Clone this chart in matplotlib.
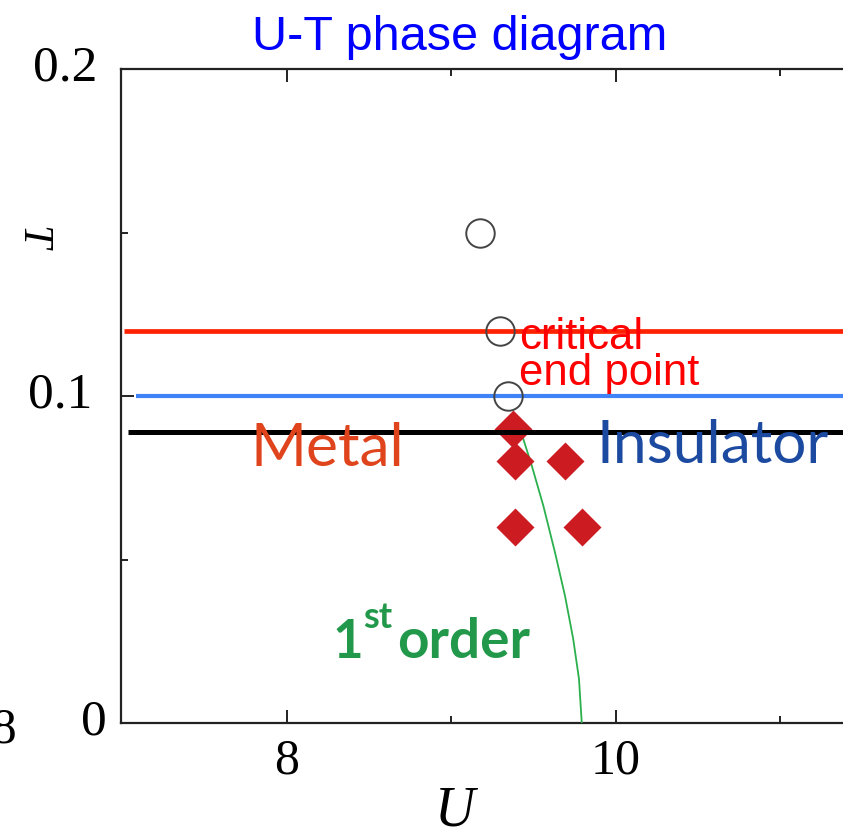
import matplotlib
matplotlib.use("Agg")
import matplotlib.pyplot as plt
from matplotlib.ticker import FixedLocator, NullFormatter
from matplotlib import transforms

# ---- data ----
circle_U = [9.173, 9.295, 9.343]
circle_T = [0.150, 0.120, 0.100]

diamond_U = [9.374, 9.386, 9.690, 9.386, 9.793]
diamond_T = [0.090, 0.080, 0.080, 0.060, 0.060]

first_order_U = [9.433, 9.488, 9.558, 9.629, 9.690, 9.740, 9.775, 9.792]
first_order_T = [0.0874, 0.0787, 0.0665, 0.0522, 0.0389, 0.0257, 0.0135, 0.0]

red_T, red_U0 = 0.120, 7.01
blue_T, blue_U0 = 0.100, 7.085
black_T, black_U0 = 0.089, 7.035

x_major = [8, 10]
x_minor = [9, 11]
y_major = [0, 0.1, 0.2]
y_major_labels = ["0", "0.1", "0.2"]
y_minor = [0.05, 0.15]

# ---- layout ----
W, H = 843, 829
y_label_right_px = [107, 92, 97]   # right edge of each y tick label (pixels)

fig = plt.figure(figsize=(W / 100, H / 100), dpi=100)

def fx(x):
    return x / W

def fy(y):
    return 1 - y / H

left, right, top, bottom = 121, 843, 70, 724
ax = fig.add_axes([fx(left), fy(bottom), (right - left) / W, (bottom - top) / H])
ax.set_xlim(6.991, 11.380)
ax.set_ylim(0, 0.2)

for s in ["left", "bottom", "top"]:
    ax.spines[s].set_linewidth(1.6)
    ax.spines[s].set_color("#222222")
ax.spines["right"].set_visible(False)

ax.xaxis.set_major_locator(FixedLocator(x_major))
ax.xaxis.set_minor_locator(FixedLocator(x_minor))
ax.yaxis.set_major_locator(FixedLocator(y_major))
ax.yaxis.set_minor_locator(FixedLocator(y_minor))
ax.yaxis.set_major_formatter(NullFormatter())
ax.tick_params(which="both", direction="in", top=True, right=False, width=1.4, color="#222222")
ax.tick_params(which="major", length=9.5)
ax.tick_params(which="minor", length=5)
ax.tick_params(axis="x", which="major", pad=10)
for lab in ax.get_xticklabels():
    lab.set_fontfamily("Liberation Serif")
    lab.set_fontsize(36)

# y tick labels (x in figure fraction, y in data), baseline ~11 px below tick
ytrans = transforms.blended_transform_factory(fig.transFigure, ax.transData) + \
    transforms.ScaledTranslation(0, -11 / 100, fig.dpi_scale_trans)
for val, lab, rpx in zip(y_major, y_major_labels, y_label_right_px):
    fig.text(fx(rpx), val, lab, transform=ytrans, ha="right", va="baseline",
             fontfamily="Liberation Serif", fontsize=37)

# horizontal lines
ax.hlines(red_T, red_U0, 11.6, color="#ff2200", lw=3.4, zorder=3)
ax.hlines(blue_T, blue_U0, 11.6, color="#3f83f7", lw=3.0, zorder=3)
ax.hlines(black_T, black_U0, 11.6, color="black", lw=3.6, zorder=5)

# first-order line
ax.plot(first_order_U, first_order_T, color="#2bb04d", lw=1.3, zorder=4)

# markers
ax.plot(diamond_U, diamond_T, ls="none", marker="D", ms=19, mfc="#cc1c22", mec="none", zorder=4)
ax.plot(circle_U, circle_T, ls="none", marker="o", ms=20.5, mfc="none", mec="#444444", mew=1.4, zorder=6)

# axis labels
fig.text(fx(455), fy(826), "U", fontfamily="Liberation Serif", style="italic",
         fontsize=40, ha="center", va="baseline")
fig.text(fx(32), fy(238), "T", fontfamily="Liberation Serif", style="italic",
         fontsize=30, ha="center", va="center", rotation=270)
fig.text(fx(4), fy(743), "8", fontfamily="Liberation Serif", fontsize=37,
         ha="center", va="baseline")

fig.text(fx(460), fy(50), "U-T phase diagram", fontfamily="Liberation Sans",
         fontsize=35, color="#0000ff", ha="center", va="baseline")

fig.text(fx(251), fy(466), "Metal", fontfamily="Lato", fontsize=43.5,
         color="#e0441c", ha="left", va="baseline", zorder=2)
fig.text(fx(597), fy(463), "Insulator", fontfamily="Lato", fontsize=43.5,
         color="#1b4aa0", ha="left", va="baseline", zorder=2)

fig.text(fx(519), fy(349), "critical", fontfamily="Liberation Sans", fontsize=31.5,
         color="#ff0000", ha="left", va="baseline")
fig.text(fx(519), fy(385), "end point", fontfamily="Liberation Sans", fontsize=31.5,
         color="#ff0000", ha="left", va="baseline")

fig.text(fx(332), fy(658), "1", fontfamily="Lato", fontweight="bold", fontsize=38,
         color="#22994a", ha="left", va="baseline")
fig.text(fx(363), fy(628), "st", fontfamily="Lato", fontweight="bold", fontsize=26,
         color="#22994a", ha="left", va="baseline")
fig.text(fx(397), fy(658), "order", fontfamily="Lato", fontweight="bold", fontsize=39.5,
         color="#22994a", ha="left", va="baseline")

fig.savefig("out.png", dpi=100)
